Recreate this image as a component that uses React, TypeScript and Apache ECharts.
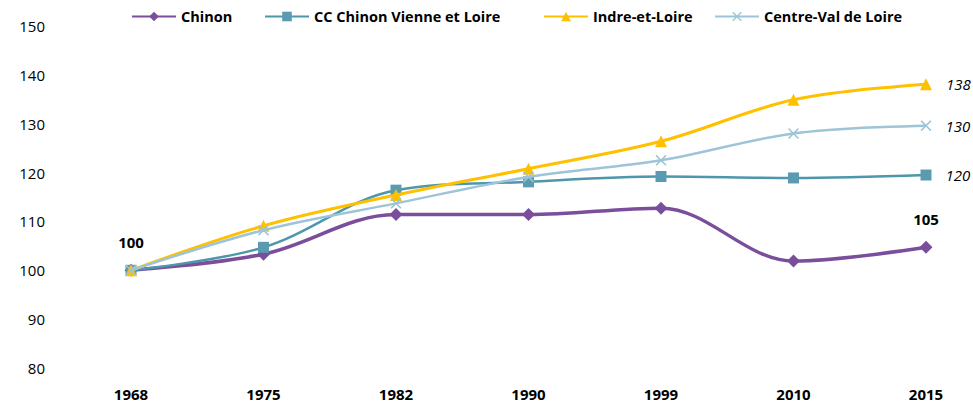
import React, { useEffect, useRef } from "react";
import * as echarts from "echarts";

const years = ["1968", "1975", "1982", "1990", "1999", "2010", "2015"];
const chinon = [100, 103.3, 111.4, 111.4, 112.7, 101.9, 104.7];
const ccChinon = [100, 104.7, 116.4, 118.1, 119.2, 118.9, 119.5];
const indre = [100, 109.1, 115.4, 120.8, 126.4, 134.9, 138.1];
const centre = [100, 108.2, 113.7, 119.1, 122.5, 128.0, 129.6];
const chinonFirstLabel = "100";
const chinonLastLabel = "105";
const ccLastLabel = "120";
const indreLastLabel = "138";
const centreLastLabel = "130";
const seriesNames = ["Chinon", "CC Chinon Vienne et Loire", "Indre-et-Loire", "Centre-Val de Loire"];
const yTicks = { min: 80, max: 150, interval: 10 };

const FONT = "'Open Sans', 'Noto Sans', sans-serif";
const X_SYMBOL =
  "path://M1,0 L5,4 L9,0 L10,1 L6,5 L10,9 L9,10 L5,6 L1,10 L0,9 L4,5 L0,1 Z";
const legendLefts = [131, 264, 543, 714];

const italicRight = (text: string) => ({
  show: true,
  position: "right",
  distance: 14,
  formatter: text,
  fontStyle: "italic",
  fontSize: 15,
  color: "#000",
  fontFamily: FONT,
});
const boldTop = (text: string) => ({
  show: true,
  position: "top",
  distance: 14,
  formatter: text,
  fontWeight: "bold",
  fontSize: 15,
  color: "#000",
  fontFamily: FONT,
});

function withLabels(values: number[], first: any, last: any) {
  return values.map((v, i) => {
    if (i === values.length - 1 && last) return { value: v, label: last };
    if (i === 0 && first) return { value: v, label: first };
    return v;
  });
}

export default function App() {
  const ref = useRef<HTMLDivElement>(null);
  useEffect(() => {
    if (!ref.current) return;
    const chart = echarts.init(ref.current, undefined, { renderer: "svg" });
    chart.setOption({
      animation: false,
      textStyle: { fontFamily: FONT },
      legend: seriesNames.map((n, i) => ({
        top: 9,
        left: legendLefts[i],
        itemWidth: 44,
        itemHeight: 12,
        padding: 0,
        textStyle: { fontFamily: FONT, fontSize: 14.5, fontWeight: "bold", color: "#000" },
        data: [n],
      })),
      grid: { left: 131, right: 47, top: 26, bottom: 34, containLabel: false },
      xAxis: {
        type: "category",
        data: years,
        boundaryGap: false,
        axisLine: { show: false },
        axisTick: { show: false },
        splitLine: { show: false },
        axisLabel: { margin: 18, fontSize: 15, fontWeight: "bold", color: "#000", fontFamily: FONT },
      },
      yAxis: {
        type: "value",
        min: yTicks.min,
        max: yTicks.max,
        interval: yTicks.interval,
        axisLine: { show: false },
        axisTick: { show: false },
        splitLine: { show: false },
        axisLabel: { margin: 86, fontSize: 15, color: "#000", fontFamily: FONT },
      },
      series: [
        {
          name: seriesNames[1],
          type: "line",
          smooth: 0.35,
          data: withLabels(ccChinon, null, italicRight(ccLastLabel)),
          symbol: "rect",
          symbolSize: 11,
          lineStyle: { width: 2.5, color: "#4E96AC" },
          itemStyle: { color: "#5A9BB1" },
          z: 3,
        },
        {
          name: seriesNames[2],
          type: "line",
          smooth: 0.35,
          data: withLabels(indre, null, italicRight(indreLastLabel)),
          symbol: "triangle",
          symbolSize: 12,
          lineStyle: { width: 3, color: "#FFC000" },
          itemStyle: { color: "#FFC000" },
          z: 4,
        },
        {
          name: seriesNames[3],
          type: "line",
          smooth: 0.35,
          data: withLabels(centre, null, italicRight(centreLastLabel)),
          symbol: X_SYMBOL,
          symbolSize: 11,
          lineStyle: { width: 2.5, color: "#9DC4D7" },
          itemStyle: { color: "#9DC4D7" },
          z: 5,
        },
        {
          name: seriesNames[0],
          type: "line",
          smooth: 0.35,
          data: withLabels(chinon, boldTop(chinonFirstLabel), boldTop(chinonLastLabel)),
          symbol: "diamond",
          symbolSize: 13,
          lineStyle: { width: 3.5, color: "#7B4E9C" },
          itemStyle: { color: "#7B4E9C" },
          z: 2,
        },
      ],
    });
    return () => chart.dispose();
  }, []);
  return (
    <div
      ref={ref}
      style={{ position: "absolute", left: 0, top: 0, width: 973, height: 402 }}
    />
  );
}
